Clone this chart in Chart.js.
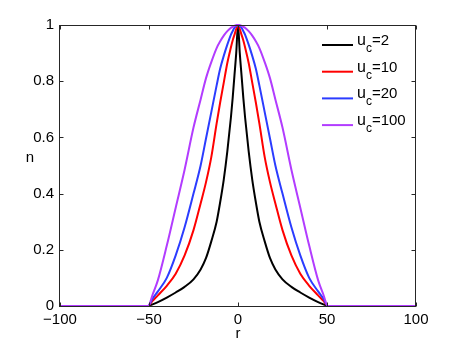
<!DOCTYPE html>
<html>
<head>
<meta charset="utf-8">
<script src="https://cdn.jsdelivr.net/npm/chart.js@4"></script>
<style>
  html, body { margin: 0; padding: 0; background: #fff; }
</style>
</head>
<body>
<canvas id="chart" width="460" height="346"></canvas>
<script>
const rValues = [-100, -50.5, -48, -45, -40, -35, -30, -25, -21, -18, -15, -12, -10, -8, -6, -4, -3, -2, -1,
  0, 1, 2, 3, 4, 6, 8, 10, 12, 15, 18, 21, 25, 30, 35, 40, 45, 48, 50.5, 100];

const nUc2 = [0, 0, 0.006, 0.014, 0.03, 0.048, 0.068, 0.095, 0.13, 0.17, 0.23, 0.30, 0.37, 0.45, 0.55, 0.67, 0.74, 0.82, 0.90,
  1, 0.90, 0.82, 0.74, 0.67, 0.55, 0.45, 0.37, 0.30, 0.23, 0.17, 0.13, 0.095, 0.068, 0.048, 0.03, 0.014, 0.006, 0, 0];
const nUc10 = [0, 0, 0.018, 0.038, 0.072, 0.115, 0.18, 0.27, 0.365, 0.44, 0.53, 0.65, 0.725, 0.795, 0.865, 0.92, 0.945, 0.965, 0.985,
  1, 0.985, 0.965, 0.945, 0.92, 0.865, 0.795, 0.725, 0.65, 0.53, 0.44, 0.365, 0.27, 0.18, 0.115, 0.072, 0.038, 0.018, 0, 0];
const nUc20 = [0, 0, 0.026, 0.052, 0.1, 0.18, 0.28, 0.4, 0.5, 0.595, 0.69, 0.785, 0.845, 0.89, 0.93, 0.965, 0.978, 0.99, 0.997,
  1, 0.997, 0.99, 0.978, 0.965, 0.93, 0.89, 0.845, 0.785, 0.69, 0.595, 0.5, 0.4, 0.28, 0.18, 0.1, 0.052, 0.026, 0, 0];
const nUc100 = [0, 0, 0.04, 0.092, 0.215, 0.35, 0.485, 0.635, 0.735, 0.81, 0.868, 0.918, 0.942, 0.962, 0.978, 0.99, 0.993, 0.997, 0.999,
  1, 0.999, 0.997, 0.993, 0.99, 0.978, 0.962, 0.942, 0.918, 0.868, 0.81, 0.735, 0.635, 0.485, 0.35, 0.215, 0.092, 0.04, 0, 0];

const ucLabels = ['2', '10', '20', '100'];
const lineColors = ['#000000', '#ff0000', '#2b3cff', '#b23cff'];
const seriesValues = [nUc2, nUc10, nUc20, nUc100];

const FONT = '"Liberation Sans", Arial, Helvetica, sans-serif';

function toPoints(ys) {
  return rValues.map((r, i) => ({ x: r, y: ys[i] }));
}

// matlab style box: frame plus inward ticks on all four sides
const boxPlugin = {
  id: 'matlabBox',
  afterDraw(chart) {
    const ctx = chart.ctx;
    const a = chart.chartArea;
    const xs = chart.scales.x;
    const ys = chart.scales.y;
    const L = Math.round(a.left) - 0.5, R = Math.round(a.right) - 0.5;
    const T = Math.round(a.top) + 0.5, B = Math.round(a.bottom) + 0.5;
    ctx.save();
    ctx.strokeStyle = '#262626';
    ctx.lineWidth = 1;
    ctx.strokeRect(L, T, R - L, B - T);
    ctx.beginPath();
    xs.ticks.forEach(t => {
      const px = Math.round(xs.getPixelForValue(t.value)) + 0.5;
      ctx.moveTo(px, B); ctx.lineTo(px, B - 4);
      ctx.moveTo(px, T); ctx.lineTo(px, T + 4);
    });
    ys.ticks.forEach(t => {
      const py = Math.round(ys.getPixelForValue(t.value)) + 0.5;
      ctx.moveTo(L, py); ctx.lineTo(L + 4, py);
      ctx.moveTo(R, py); ctx.lineTo(R - 4, py);
    });
    ctx.stroke();

    // axis labels
    ctx.fillStyle = '#000';
    ctx.font = '15px ' + FONT;
    ctx.textAlign = 'center';
    ctx.textBaseline = 'alphabetic';
    ctx.fillText('r', (a.left + a.right) / 2, 338);
    ctx.fillText('n', 30, 162);

    // legend with subscript
    chart.data.datasets.forEach((ds, i) => {
      const y = 45 + i * 26.7;
      ctx.strokeStyle = ds.borderColor;
      ctx.lineWidth = 2;
      ctx.beginPath();
      ctx.moveTo(322, y);
      ctx.lineTo(353, y);
      ctx.stroke();
      ctx.textAlign = 'left';
      ctx.font = '16px ' + FONT;
      ctx.fillText('u', 357, y);
      const uw = ctx.measureText('u').width;
      ctx.font = '12px ' + FONT;
      ctx.fillText('c', 357 + uw, y + 7);
      const cw = ctx.measureText('c').width;
      ctx.font = '15px ' + FONT;
      ctx.fillText('=' + ucLabels[i], 357 + uw + cw, y);
    });
    ctx.restore();
  }
};

new Chart(document.getElementById('chart'), {
  type: 'scatter',
  data: {
    datasets: seriesValues.map((vals, i) => ({
      label: 'u_c=' + ucLabels[i],
      data: toPoints(vals),
      showLine: true,
      borderColor: lineColors[i],
      borderWidth: 2,
      pointRadius: 0,
      cubicInterpolationMode: 'monotone',
      clip: false,
      order: 4 - i
    }))
  },
  options: {
    responsive: false,
    animation: false,
    devicePixelRatio: 1,
    layout: { padding: { left: 0, right: 44, top: 25, bottom: 0 } },
    plugins: {
      legend: { display: false },
      tooltip: { enabled: false }
    },
    scales: {
      x: {
        type: 'linear',
        min: -100,
        max: 100,
        afterFit(scale) { scale.height = 40; },
        border: { display: false },
        grid: { display: false, drawTicks: false },
        ticks: {
          stepSize: 50,
          padding: 5,
          color: '#000',
          font: { family: FONT, size: 15 },
          callback: v => v < 0 ? '\u2212' + Math.abs(v) : String(v)
        }
      },
      y: {
        min: 0,
        max: 1,
        afterFit(scale) { scale.width = 60; },
        border: { display: false },
        grid: { display: false, drawTicks: false },
        ticks: {
          stepSize: 0.2,
          padding: 6,
          color: '#000',
          font: { family: FONT, size: 15 },
          callback: v => String(Math.round(v * 10) / 10)
        }
      }
    }
  },
  plugins: [boxPlugin]
});
</script>
</body>
</html>
